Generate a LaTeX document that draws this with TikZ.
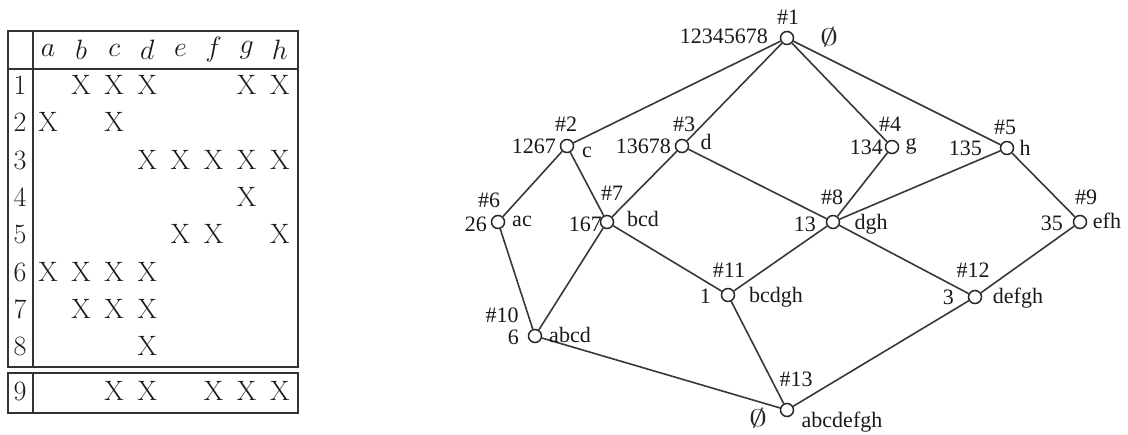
\RequirePackage{fix-cm}
\documentclass[tikz,border=0pt]{standalone}
\usepackage{fontspec}
\newfontfamily\tms{Liberation Serif}
\newcommand{\wnul}{\scalebox{1.5}[1]{$\emptyset$}}
\begin{document}
\begin{tikzpicture}[x=1pt,y=-1pt,
  vert/.style={circle,draw=black!85,fill=white,line width=1.5pt,minimum size=13pt,inner sep=0pt},
  edge/.style={line width=1.6pt,draw=black!78},
  glab/.style={inner sep=0pt,text=black!90,font=\tms\fontsize{22}{24}\selectfont},
  tlab/.style={inner sep=0pt,text=black!90,font=\fontsize{28}{30}\selectfont},
  rule/.style={line width=1.8pt,draw=black!80},
  nul/.style={inner sep=0pt,text=black!85,font=\fontsize{24}{26}\selectfont}]
\useasboundingbox (0,0) rectangle (1128,435);
% ---------- table ----------
\draw[rule] (8,31) rectangle (298,367);
\draw[rule] (33,31) -- (33,367);
\draw[rule] (8,69) -- (298,69);
\draw[rule] (8,373) rectangle (298,413);
\draw[rule] (33,373) -- (33,413);
\foreach \l [count=\i] in {a,b,c,d,e,f,g,h}
  \node[tlab] (h\l) at ({48+33.1*(\i-1)},50) {$\l$};
\foreach \r/\y in {1/85,2/122,3/160,4/197,5/234,6/272,7/309,8/346,9/391}
  \node[tlab] (r\r) at (20,\y) {\r};
\foreach \r/\y/\cols in {1/85/{2,3,4,7,8},2/122/{1,3},3/160/{4,5,6,7,8},4/197/{7},5/234/{5,6,8},6/272/{1,2,3,4},7/309/{2,3,4},8/346/{4},9/391/{3,4,6,7,8}}
  \foreach \c in \cols
    \node[tlab] (x\r-\c) at ({48+33.1*(\c-1)},\y) {X};
% ---------- lattice ----------
\node[vert] (n1) at (787,38) {};
\node[vert] (n2) at (567,146) {};
\node[vert] (n3) at (682,146) {};
\node[vert] (n4) at (892,147) {};
\node[vert] (n5) at (1007,148) {};
\node[vert] (n6) at (498,222) {};
\node[vert] (n7) at (607,222) {};
\node[vert] (n8) at (833,222) {};
\node[vert] (n9) at (1080,222) {};
\node[vert] (n10) at (535,336) {};
\node[vert] (n11) at (728,295) {};
\node[vert] (n12) at (975,297) {};
\node[vert] (n13) at (787,410) {};
\foreach \a/\b in {1/2,1/3,1/4,1/5,2/6,2/7,3/7,3/8,4/8,5/8,5/9,6/10,7/10,7/11,8/11,8/12,9/12,10/13,11/13,12/13}
  \draw[edge] (n\a) -- (n\b);
% labels
\node[glab] (k1) at (788,17) {\#1};
\node[glab,anchor=east] (e1) at (768,36) {12345678};
\node[nul] (i1) at (829,37) {\wnul};
\node[glab] (k2) at (566,124) {\#2};
\node[glab,anchor=east] (e2) at (556,146) {1267};
\node[glab] (i2) at (587,152) {c};
\node[glab] (k3) at (684,124) {\#3};
\node[glab,anchor=east] (e3) at (671,146) {13678};
\node[glab] (i3) at (706,142) {d};
\node[glab] (k4) at (890,124) {\#4};
\node[glab,anchor=east] (e4) at (883,147) {134};
\node[glab] (i4) at (911,146) {g};
\node[glab] (k5) at (1005,127) {\#5};
\node[glab,anchor=east] (e5) at (982,148) {135};
\node[glab] (i5) at (1025,148) {h};
\node[glab] (k6) at (489,200) {\#6};
\node[glab,anchor=east] (e6) at (487,224) {26};
\node[glab] (i6) at (522,221) {ac};
\node[glab] (k7) at (612,193) {\#7};
\node[glab,anchor=east] (e7) at (602,224) {167};
\node[glab] (i7) at (643,219) {bcd};
\node[glab] (k8) at (832,197) {\#8};
\node[glab,anchor=east] (e8) at (816,224) {13};
\node[glab] (i8) at (871,224) {dgh};
\node[glab] (k9) at (1086,197) {\#9};
\node[glab,anchor=east] (e9) at (1063,223) {35};
\node[glab] (i9) at (1107,221) {efh};
\node[glab] (k10) at (502,315) {\#10};
\node[glab,anchor=east] (e10) at (519,337) {6};
\node[glab] (i10) at (570,335) {abcd};
\node[glab] (k11) at (729,270) {\#11};
\node[glab,anchor=east] (e11) at (711,296) {1};
\node[glab] (i11) at (776,297) {bcdgh};
\node[glab] (k12) at (973,270) {\#12};
\node[glab,anchor=east] (e12) at (954,297) {3};
\node[glab] (i12) at (1018,298) {defgh};
\node[glab] (k13) at (796,379) {\#13};
\node[nul] (i13) at (758,418) {\wnul};
\node[glab] (a13) at (842,422) {abcdefgh};
\end{tikzpicture}
\end{document}
